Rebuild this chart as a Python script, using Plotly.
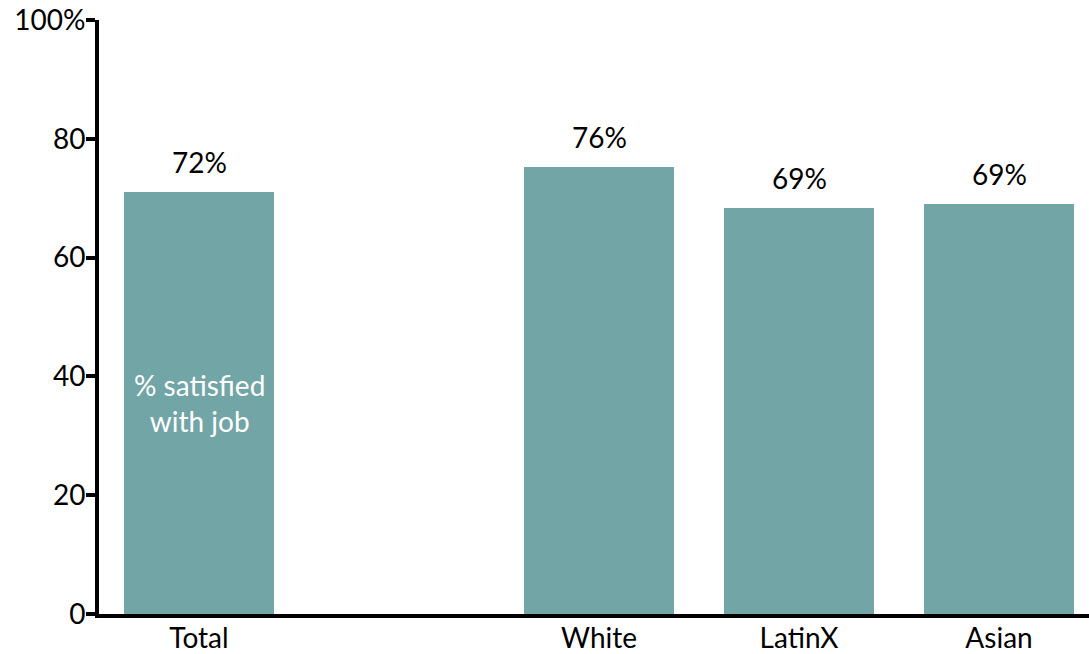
import plotly.graph_objects as go

categories = ["Total", "White", "LatinX", "Asian"]
x_pos = [0, 2, 3, 4]
values = [71.0, 75.3, 68.4, 69.0]
labels = ["72%", "76%", "69%", "69%"]
y_ticks = [0, 20, 40, 60, 80, 100]
y_tick_text = ["0", "20", "40", "60", "80", "100%"]

FONT = "Lato, Open Sans, sans-serif"
BAR = "#72A5A6"
FS = 28

fig = go.Figure()
fig.add_trace(go.Bar(x=x_pos, y=values, width=0.75, marker=dict(color=BAR, line=dict(width=0)),
                     hoverinfo="skip"))

for xp, v, lab in zip(x_pos, values, labels):
    fig.add_annotation(x=xp, y=v, text=lab, showarrow=False, yanchor="bottom", yshift=11,
                       font=dict(family=FONT, size=FS, color="black"))

fig.add_annotation(x=x_pos[0], y=35.5, text="% satisfied<br>with job", showarrow=False,
                   font=dict(family=FONT, size=FS, color="white"))

fig.update_layout(
    width=1089, height=654,
    margin=dict(l=99, r=0, t=20, b=40),
    plot_bgcolor="white", paper_bgcolor="white",
    showlegend=False, bargap=0,
    font=dict(family=FONT, size=FS, color="black"),
    xaxis=dict(range=[-0.5, 4.45], tickvals=x_pos, ticktext=categories, showgrid=False,
               zeroline=False, showline=True, linecolor="black", linewidth=4, ticks="",
               automargin=False, ticklabelstandoff=-4,
               tickfont=dict(family=FONT, size=FS, color="black")),
    yaxis=dict(range=[0, 100], tickvals=y_ticks, ticktext=y_tick_text, showgrid=False,
               zeroline=False, showline=True, linecolor="black", linewidth=4,
               ticks="outside", ticklen=9, tickwidth=4, tickcolor="black", automargin=False,
               ticklabelstandoff=-5,
               tickfont=dict(family=FONT, size=FS, color="black")),
)

fig.write_html("out.html")
